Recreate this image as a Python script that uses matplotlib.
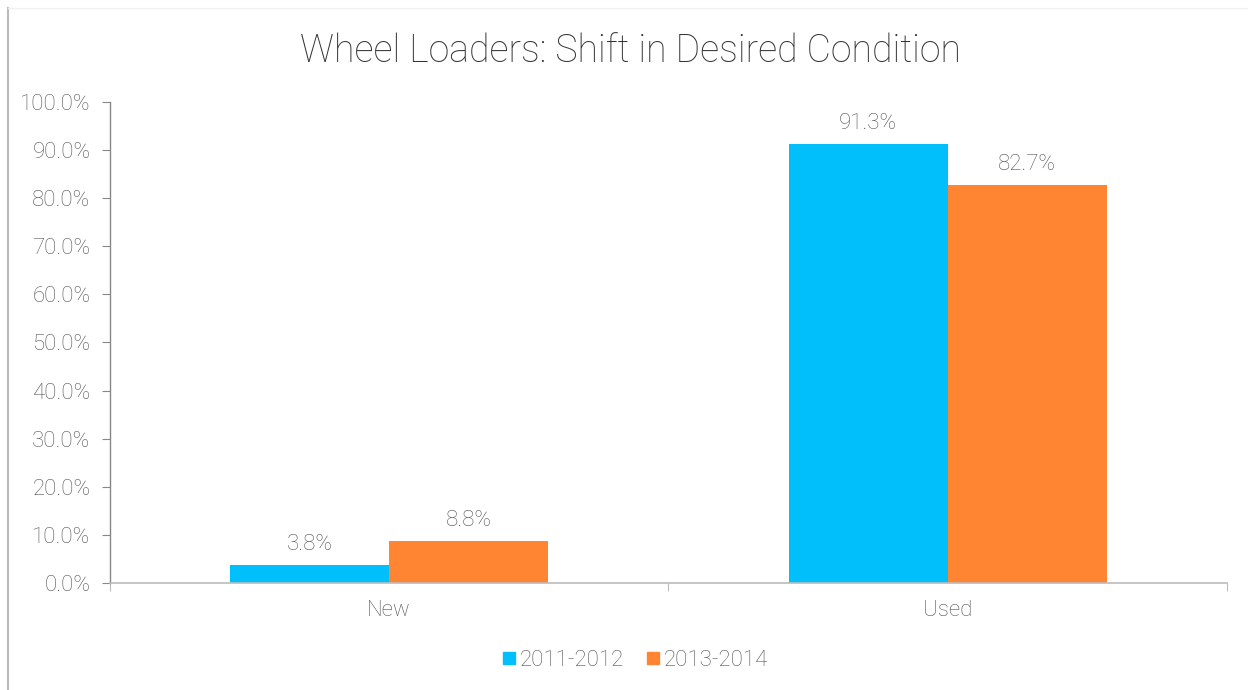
import matplotlib
matplotlib.use("Agg")
import matplotlib.pyplot as plt
import numpy as np
from matplotlib.lines import Line2D

categories = ["New", "Used"]
series_names = ["2011-2012", "2013-2014"]
values_2011 = [3.8, 91.3]
values_2013 = [8.8, 82.7]
yticks = [0, 10, 20, 30, 40, 50, 60, 70, 80, 90, 100]
title = "Wheel Loaders: Shift in Desired Condition"

colors = ["#00BFFA", "#FF8533"]
txt = "#555555"
plt.rcParams['font.family'] = ['Roboto', 'DejaVu Sans']
fw = 'light'
fs = 16

fig = plt.figure(figsize=(12.48, 6.9), dpi=100)
ax = fig.add_axes([0.0881, 0.1551, 0.8951, 0.6971])

x = np.arange(len(categories))
w = 0.285
b1 = ax.bar(x - w / 2, values_2011, w, color=colors[0], label=series_names[0])
b2 = ax.bar(x + w / 2, values_2013, w, color=colors[1], label=series_names[1])
for bars, vals in ((b1, values_2011), (b2, values_2013)):
    for r, v in zip(bars, vals):
        ax.annotate(f"{v:.1f}%", (r.get_x() + r.get_width() / 2, v), xytext=(0, 7),
                    textcoords="offset points", ha="center", va="bottom",
                    fontsize=fs, color=txt, fontweight=fw)

ax.set_xlim(-0.5, 1.5)
ax.set_ylim(0, 100)
ax.set_yticks(yticks)
ax.set_yticklabels([f"{t:.1f}%" for t in yticks], fontsize=fs, color=txt, fontweight=fw)
ax.set_xticks([-0.5, 0.5, 1.5], minor=False)
ax.set_xticklabels([])
ax.set_xticks(x, minor=True)
ax.set_xticklabels(categories, minor=True, fontsize=fs, color=txt, fontweight=fw)
ax.tick_params(axis='x', which='minor', length=0, pad=12)
ax.tick_params(axis='x', which='major', length=6, color="#BBBBBB", direction='out')
ax.tick_params(axis='y', length=6, color="#888888", pad=8)
for s in ("top", "right"):
    ax.spines[s].set_visible(False)
ax.spines["left"].set_color("#888888")
ax.spines["bottom"].set_color("#BBBBBB")
ax.spines["left"].set_linewidth(1.0)
ax.spines["bottom"].set_linewidth(1.2)

fig.text(0.505, 0.925, title, ha="center", va="center", fontsize=27, color="#333333", fontweight=fw)

handles = [Line2D([], [], marker='s', linestyle='none', markersize=8, color=c) for c in colors]
fig.legend(handles, series_names, loc="center", bbox_to_anchor=(0.508, 0.043), ncol=2,
           frameon=False, handlelength=0.8, handletextpad=0.1, columnspacing=0.9,
           prop={'size': fs, 'weight': fw}, labelcolor=txt)

fig.add_artist(Line2D([8 / 1248, 8 / 1248], [0, 1 - 8 / 690], transform=fig.transFigure,
                      color="#BBBBBB", linewidth=1.5))
fig.add_artist(Line2D([8 / 1248, 1], [1 - 8 / 690, 1 - 8 / 690], transform=fig.transFigure,
                      color="#F0F0F0", linewidth=1.0))

fig.savefig("out.png", dpi=100)
